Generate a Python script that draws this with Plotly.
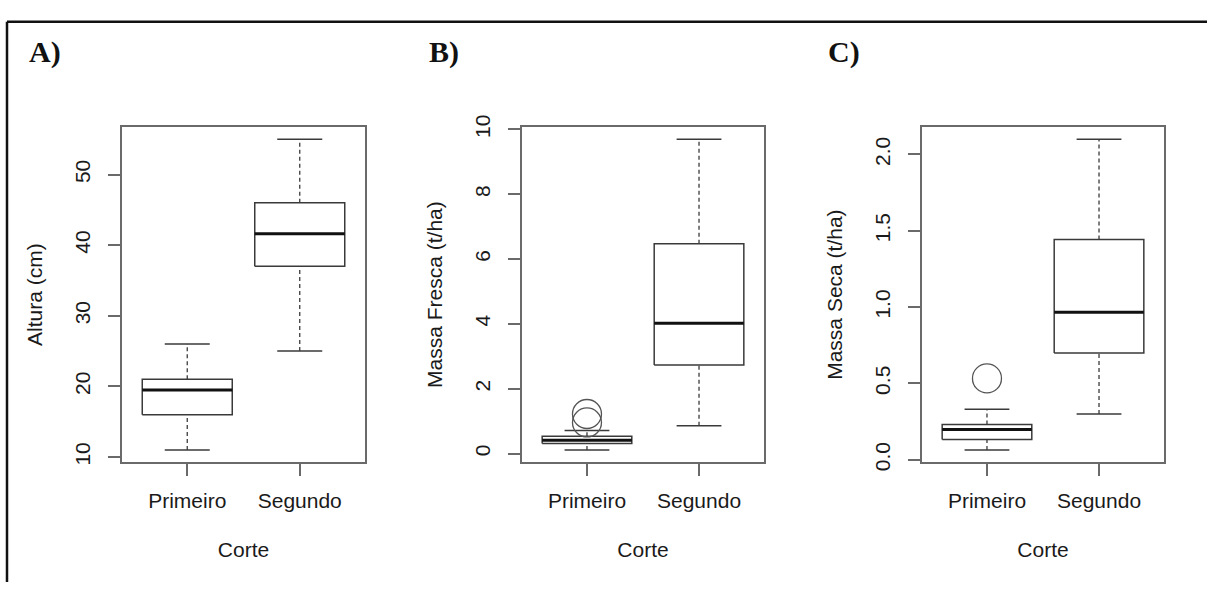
import plotly.graph_objects as go

# ---------------- data ----------------
categories = ["Primeiro", "Segundo"]
positions = [1, 2]

# Panel A - Altura (cm)
altura_lo = [11.0, 25.0]
altura_q1 = [16.0, 37.0]
altura_med = [19.5, 41.6]
altura_q3 = [21.0, 46.0]
altura_hi = [26.0, 55.0]
altura_out = [[], []]
altura_ticks = [10, 20, 30, 40, 50]
altura_ticktext = ["10", "20", "30", "40", "50"]

# Panel B - Massa Fresca (t/ha)
fresca_lo = [0.11, 0.86]
fresca_q1 = [0.31, 2.73]
fresca_med = [0.41, 4.02]
fresca_q3 = [0.53, 6.47]
fresca_hi = [0.71, 9.70]
fresca_out = [[0.96, 1.22], []]
fresca_ticks = [0, 2, 4, 6, 8, 10]
fresca_ticktext = ["0", "2", "4", "6", "8", "10"]

# Panel C - Massa Seca (t/ha)
seca_lo = [0.064, 0.30]
seca_q1 = [0.133, 0.70]
seca_med = [0.198, 0.967]
seca_q3 = [0.231, 1.443]
seca_hi = [0.331, 2.10]
seca_out = [[0.533], []]
seca_ticks = [0.0, 0.5, 1.0, 1.5, 2.0]
seca_ticktext = ["0.0", "0.5", "1.0", "1.5", "2.0"]

panel_labels = ["A)", "B)", "C)"]
y_titles = ["Altura (cm)", "Massa Fresca (t/ha)", "Massa Seca (t/ha)"]
x_title = "Corte"

panels = [
    dict(lo=altura_lo, q1=altura_q1, med=altura_med, q3=altura_q3, hi=altura_hi,
         out=altura_out, ticks=altura_ticks, ticktext=altura_ticktext),
    dict(lo=fresca_lo, q1=fresca_q1, med=fresca_med, q3=fresca_q3, hi=fresca_hi,
         out=fresca_out, ticks=fresca_ticks, ticktext=fresca_ticktext),
    dict(lo=seca_lo, q1=seca_q1, med=seca_med, q3=seca_q3, hi=seca_hi,
         out=seca_out, ticks=seca_ticks, ticktext=seca_ticktext),
]

# ---------------- layout / style ----------------
W, H = 1207, 591
x_domains = [(122 / W, 365 / W), (522 / W, 764 / W), (922 / W, 1164 / W)]
y_domain = (1 - 467 / H, 1 - 119 / H)
title_x_px = [27, 427, 826]

FONT = "Liberation Sans, Arial, sans-serif"
BOX_COL = "#3a3a3a"
FRAME_COL = "#6a6a6a"
BOX_HALF = 0.4
CAP_HALF = 0.2

fig = go.Figure()

for k, p in enumerate(panels):
    xa = "x" if k == 0 else f"x{k + 1}"
    ya = "y" if k == 0 else f"y{k + 1}"
    for i, xc in enumerate(positions):
        lo, q1, med, q3, hi = p["lo"][i], p["q1"][i], p["med"][i], p["q3"][i], p["hi"][i]
        # whiskers (dashed)
        fig.add_trace(go.Scatter(
            x=[xc, xc, None, xc, xc], y=[q3, hi, None, lo, q1], mode="lines",
            line=dict(color=BOX_COL, width=1.3, dash="4px,3px"),
            xaxis=xa, yaxis=ya, showlegend=False, hoverinfo="skip"))
        # caps
        fig.add_trace(go.Scatter(
            x=[xc - CAP_HALF, xc + CAP_HALF, None, xc - CAP_HALF, xc + CAP_HALF],
            y=[hi, hi, None, lo, lo], mode="lines",
            line=dict(color=BOX_COL, width=1.5),
            xaxis=xa, yaxis=ya, showlegend=False, hoverinfo="skip"))
        # box
        fig.add_trace(go.Scatter(
            x=[xc - BOX_HALF, xc + BOX_HALF, xc + BOX_HALF, xc - BOX_HALF, xc - BOX_HALF],
            y=[q1, q1, q3, q3, q1], mode="lines", fill="toself", fillcolor="white",
            line=dict(color=BOX_COL, width=1.5),
            xaxis=xa, yaxis=ya, showlegend=False, hoverinfo="skip"))
        # median
        fig.add_trace(go.Scatter(
            x=[xc - BOX_HALF, xc + BOX_HALF], y=[med, med], mode="lines",
            line=dict(color="#111111", width=3),
            xaxis=xa, yaxis=ya, showlegend=False, hoverinfo="skip"))
        # outliers
        if p["out"][i]:
            fig.add_trace(go.Scatter(
                x=[xc] * len(p["out"][i]), y=p["out"][i], mode="markers",
                marker=dict(symbol="circle-open", size=29,
                            line=dict(color="#555555", width=1.3), color="#555555"),
                xaxis=xa, yaxis=ya, showlegend=False, hoverinfo="skip"))

    # axis ranges like R (4% extension)
    all_vals = p["lo"] + p["hi"] + [v for o in p["out"] for v in o]
    vmin, vmax = min(all_vals), max(all_vals)
    ext = 0.04 * (vmax - vmin)
    yr = [vmin - ext, vmax + ext]
    xr = [0.5 - 0.08, 2.5 + 0.08]

    axis_common = dict(showgrid=False, zeroline=False, showline=True, mirror=True,
                       linecolor=FRAME_COL, linewidth=1.5, ticks="outside", ticklen=12,
                       tickcolor=FRAME_COL, tickwidth=1.5,
                       tickfont=dict(family=FONT, size=21, color="#1a1a1a"))
    xkey = "xaxis" if k == 0 else f"xaxis{k + 1}"
    ykey = "yaxis" if k == 0 else f"yaxis{k + 1}"
    fig.update_layout(**{
        xkey: dict(axis_common, domain=list(x_domains[k]), range=xr, anchor=ya,
                   tickvals=positions, ticktext=categories, ticklabelstandoff=7,
                   title=dict(text=x_title, font=dict(family=FONT, size=21, color="#1a1a1a"),
                              standoff=31)),
        ykey: dict(axis_common, domain=list(y_domain), range=yr, anchor=xa,
                   tickvals=p["ticks"], ticktext=p["ticktext"], tickangle=-90,
                   ticklabelstandoff=10,
                   title=dict(text=y_titles[k], font=dict(family=FONT, size=21, color="#1a1a1a"),
                              standoff=22)),
    })

    fig.add_annotation(text=f"<b>{panel_labels[k]}</b>", xref="paper", yref="paper",
                       x=title_x_px[k] / W, y=1 - 41 / H, xanchor="left", yanchor="middle",
                       showarrow=False,
                       font=dict(family="Liberation Serif, Times New Roman, serif", size=30,
                                 color="#111111"))

# outer frame (top and left edges visible)
fig.add_shape(type="line", xref="paper", yref="paper", x0=7 / W, x1=1, y0=1 - 10 / H, y1=1 - 10 / H,
              line=dict(color="#111111", width=2.5))
fig.add_shape(type="line", xref="paper", yref="paper", x0=7 / W, x1=7 / W, y0=0, y1=1 - 10 / H,
              line=dict(color="#111111", width=2.5))

fig.update_layout(width=W, height=H, margin=dict(l=0, r=0, t=0, b=0), autosize=False,
                  paper_bgcolor="white", plot_bgcolor="white", showlegend=False)

fig.write_html("out.html", config={"displayModeBar": False},
               post_script="document.body.style.margin='0';document.body.style.overflow='hidden';")
